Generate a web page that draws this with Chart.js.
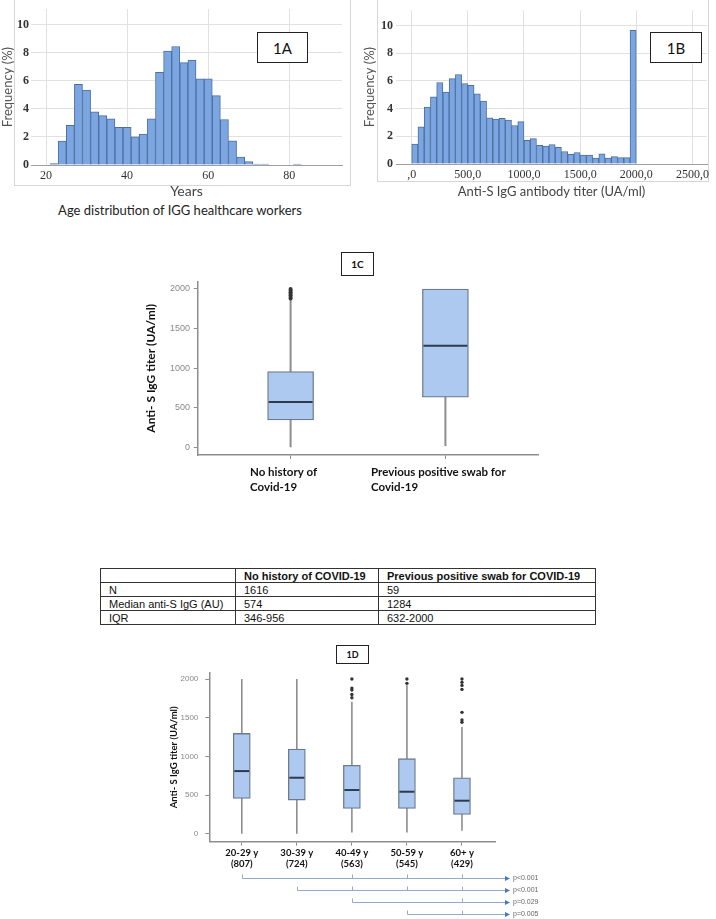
<!DOCTYPE html>
<html>
<head>
<meta charset="utf-8">
<script src="https://cdn.jsdelivr.net/npm/chart.js@4.4.1/dist/chart.umd.min.js"></script>
<style>
  body { margin: 0; background: #fff; }
  #page { position: relative; width: 716px; height: 919px; overflow: hidden; font-family: Lato, "Liberation Sans", sans-serif; }
  canvas { position: absolute; }
  .frame { position: absolute; border: 1px solid #d6d6d6; }
  .tag { position: absolute; border: 1px solid #222; background: #fff; color: #111; display: flex; align-items: center; justify-content: center; box-sizing: border-box; }
  .caption { position: absolute; font-size: 13px; color: #222; white-space: nowrap; }
  table { position: absolute; left: 100px; top: 568px; border-collapse: collapse; font-family: "Liberation Sans", Arial, sans-serif; font-size: 11px; color: #111; }
  td { border: 1px solid #333; padding: 0 8px; height: 13px; line-height: 12px; white-space: nowrap; }
  tr:first-child td { font-weight: bold; }
</style>
</head>
<body>
<div id="page">
  <div class="frame" style="left:14px;top:-2px;width:335px;height:186px"></div>
  <div class="frame" style="left:377px;top:-2px;width:330px;height:182px"></div>
  <canvas id="ageChart" width="360" height="200" style="left:0;top:0"></canvas>
  <canvas id="titerChart" width="356" height="200" style="left:360px;top:0"></canvas>
  <div class="tag" style="left:257px;top:32px;width:51px;height:31px;font-size:15px">1A</div>
  <div class="tag" style="left:650px;top:32px;width:52px;height:31px;font-size:15px">1B</div>
  <div class="caption" style="left:0;width:360px;top:202px;text-align:center">Age distribution of IGG healthcare workers</div>

  <canvas id="swabChart" width="420" height="240" style="left:140px;top:270px"></canvas>
  <div class="tag" style="left:341px;top:252px;width:33px;height:24px;font-size:10px;font-weight:bold">1C</div>

  <table>
    <tr><td style="width:118px"></td><td style="width:126px">No history of COVID-19</td><td style="width:200px">Previous positive swab for COVID-19</td></tr>
    <tr><td>N</td><td>1616</td><td>59</td></tr>
    <tr><td>Median anti-S IgG (AU)</td><td>574</td><td>1284</td></tr>
    <tr><td>IQR</td><td>346-956</td><td>632-2000</td></tr>
  </table>

  <canvas id="ageBoxChart" width="420" height="279" style="left:140px;top:640px"></canvas>
  <div class="tag" style="left:336px;top:645px;width:33px;height:19px;font-size:9px;font-weight:bold">1D</div>
</div>

<script>
// --- 1A: age histogram (2-year bins) ---
const ageBins = [22, 24, 26, 28, 30, 32, 34, 36, 38, 40, 42, 44, 46, 48, 50, 52, 54, 56, 58, 60, 62, 64, 66, 68, 70, 72, 74, 76, 78, 80, 82];
const ageFreq = [0.1, 1.7, 2.83, 5.75, 5.33, 3.79, 3.52, 3.29, 2.69, 2.69, 2.0, 2.2, 3.29, 6.6, 8.11, 8.44, 7.29, 7.47, 6.14, 6.14, 4.94, 3.24, 1.72, 0.57, 0.25, 0.07, 0.07, 0, 0, 0, 0.07];
const ageTicks = [20, 40, 60, 80];

// --- 1B: anti-S IgG titer histogram ---
const titerBins = [27.8, 83.3, 138.9, 194.4, 250, 305.6, 361.1, 416.7, 472.2, 527.8, 583.3, 638.9, 694.4, 750, 805.6, 861.1, 916.7, 972.2,
  1027.8, 1083.3, 1138.9, 1194.4, 1250, 1305.6, 1361.1, 1416.7, 1472.2, 1527.8, 1583.3, 1638.9, 1694.4, 1750, 1805.6, 1861.1, 1916.7, 1972.2];
const titerFreq = [1.43, 2.69, 4.1, 4.84, 5.88, 5.19, 6.16, 6.46, 5.81, 5.67, 5.07, 4.54, 3.33, 3.24, 3.29, 3.17, 2.78, 3.06,
  1.71, 1.83, 1.34, 1.3, 1.41, 1.2, 0.9, 0.69, 0.83, 0.65, 0.65, 0.42, 0.74, 0.42, 0.53, 0.46, 0.46, 9.65];
const titerTicks = [0, 500, 1000, 1500, 2000, 2500];
const freqTicks = [0, 2, 4, 6, 8, 10];

// --- 1C: by swab history ---
const swabLabels = [['No history of', 'Covid-19'], ['Previous positive swab for', 'Covid-19']];
const swabMin = [0, 15];
const swabQ1 = [346, 632];
const swabMed = [574, 1284];
const swabQ3 = [956, 2000];
const swabMax = [1870, 2000];
const swabOut = [[1880, 1900, 1920, 1940, 1960, 1980, 2000], []];

// --- 1D: by age group ---
const groupLabels = [['20-29 y', '(807)'], ['30-39 y', '(724)'], ['40-49 y', '(563)'], ['50-59 y', '(545)'], ['60+ y', '(429)']];
const groupMin = [0, 0, 17, 17, 39];
const groupQ1 = [457, 435, 328, 328, 250];
const groupMed = [810, 724, 565, 543, 427];
const groupQ3 = [1297, 1095, 884, 970, 724];
const groupMax = [2000, 2000, 1707, 1920, 1379];
const groupOut = [[], [], [1758, 1801, 1858, 1883, 2000], [1944, 2000], [1440, 1470, 1569, 1866, 1918, 1957, 2000]];
const titerAxisTicks = [0, 500, 1000, 1500, 2000];

// comparisons below 1D
const pFrom = [1, 2, 3, 4];
const pMarks = [[3, 4, 5], [3, 4, 5], [5], [5]];
const pText = ['p<0.001', 'p<0.001', 'p=0.029', 'p=0.005'];

Chart.defaults.font.family = 'Lato, "Liberation Sans", sans-serif';
Chart.defaults.animation = false;
Chart.defaults.plugins.legend.display = false;
Chart.defaults.plugins.tooltip.enabled = false;

const serif = '"Liberation Serif", serif';

function histogram(id, xs, ys, o) {
  return new Chart(document.getElementById(id), {
    type: 'bar',
    data: {
      datasets: [{
        data: xs.map((x, i) => ({ x, y: ys[i] })),
        backgroundColor: '#7ba6e1',
        borderColor: '#4c6f9e',
        borderWidth: 1,
        borderSkipped: 'start',
        barPercentage: 1,
        categoryPercentage: 1
      }]
    },
    options: {
      responsive: false,
      layout: { padding: o.pad },
      scales: {
        x: {
          type: 'linear', offset: false, min: o.xMin, max: o.xMax,
          afterBuildTicks: s => { s.ticks = o.xTicks.map(v => ({ value: v })); },
          afterFit: s => { s.height = o.xH; },
          grid: { color: '#e1e1e1', drawTicks: false, offset: false },
          border: { color: '#a0a0a0' },
          ticks: { padding: 4, color: '#333', font: { family: serif, size: 12 }, callback: o.xFmt },
          title: { display: true, text: o.xTitle, color: '#444', font: { size: o.xTitleSize }, padding: 0 }
        },
        y: {
          min: 0, max: 11.1,
          afterBuildTicks: s => { s.ticks = freqTicks.map(v => ({ value: v })); },
          afterFit: s => { s.width = o.yW; },
          grid: { color: '#e1e1e1', drawTicks: false },
          border: { display: false },
          ticks: { padding: o.yPad, color: '#333', font: { family: serif, size: 12, weight: 'bold' }, callback: v => v },
          title: { display: true, text: 'Frequency (%)', color: '#555', font: { size: 13 }, padding: 0 }
        }
      }
    }
  });
}

histogram('ageChart', ageBins, ageFreq, {
  pad: { left: 0, right: 18, top: 4, bottom: 0 },
  xMin: 16.3, xMax: 93, xTicks: ageTicks, xH: 35, yW: 31, yPad: 2,
  xFmt: v => v, xTitle: 'Years', xTitleSize: 14
});

histogram('titerChart', titerBins, titerFreq, {
  pad: { left: 2, right: 9, top: 4, bottom: 0 },
  xMin: -140, xMax: 2630, xTicks: titerTicks, xH: 36, yW: 34, yPad: 3,
  xFmt: v => (v === 0 ? ',0' : v + ',0'), xTitle: 'Anti-S IgG antibody titer (UA/ml)', xTitleSize: 13
});

function boxChart(id, d) {
  const boxes = {
    id: 'boxes',
    beforeDatasetsDraw(chart) {
      const { ctx, scales: { x, y } } = chart;
      ctx.save();
      ctx.strokeStyle = '#8d8d8d';
      ctx.lineWidth = d.whiskerW;
      d.lo.forEach((lo, i) => {
        const px = x.getPixelForValue(i + 1);
        ctx.beginPath();
        ctx.moveTo(px, y.getPixelForValue(lo));
        ctx.lineTo(px, y.getPixelForValue(d.hi[i]));
        ctx.stroke();
      });
      ctx.restore();
    },
    afterDatasetsDraw(chart) {
      const { ctx, scales: { x, y } } = chart;
      ctx.save();
      ctx.strokeStyle = '#2c3b50';
      ctx.lineWidth = 2;
      d.med.forEach((m, i) => {
        const px = x.getPixelForValue(i + 1);
        const py = y.getPixelForValue(m);
        ctx.beginPath();
        ctx.moveTo(px - d.boxW / 2 + 1, py);
        ctx.lineTo(px + d.boxW / 2 - 1, py);
        ctx.stroke();
      });
      ctx.restore();
    },
    afterDraw(chart) {
      const { ctx, scales: { x, y } } = chart;
      ctx.save();
      ctx.font = 'bold ' + d.labelSize + 'px Lato, sans-serif';
      ctx.fillStyle = '#111';
      ctx.textBaseline = 'middle';
      d.labels.forEach((lines, i) => {
        const px = x.getPixelForValue(i + 1);
        const w = Math.max(...lines.map(l => ctx.measureText(l).width));
        lines.forEach((l, j) => {
          if (d.leftAlign) {
            ctx.textAlign = 'left';
            ctx.fillText(l, px - w / 2 - 7, y.bottom + d.labelY + j * d.labelGap);
          } else {
            ctx.textAlign = 'center';
            ctx.fillText(l, px, y.bottom + d.labelY + j * d.labelGap);
          }
        });
      });
      ctx.restore();
      if (d.extra) d.extra(chart);
    }
  };

  return new Chart(document.getElementById(id), {
    type: 'bar',
    data: {
      datasets: [{
        data: d.q1.map((q, i) => ({ x: i + 1, y: [q, d.q3[i]] })),
        backgroundColor: '#aec9ef',
        borderColor: '#6b7a90',
        borderWidth: 1.3,
        borderSkipped: false,
        barThickness: d.boxW
      }, {
        type: 'scatter',
        data: d.out.flatMap((list, i) => list.map(v => ({ x: i + 1, y: v }))),
        pointRadius: d.dotR,
        pointBackgroundColor: '#333',
        pointBorderWidth: 0
      }]
    },
    options: {
      responsive: false,
      layout: { padding: d.pad },
      scales: {
        x: {
          type: 'linear', offset: false, min: d.xMin, max: d.xMax,
          afterBuildTicks: s => { s.ticks = d.q1.map((_, i) => ({ value: i + 1 })); },
          afterFit: s => { s.height = d.xH; },
          grid: { drawOnChartArea: false, drawTicks: true, tickLength: 4, color: '#8d8d8d', offset: false },
          border: { color: '#8d8d8d', width: 1.5 },
          ticks: { display: false }
        },
        y: {
          min: d.yMin, max: d.yMax,
          afterBuildTicks: s => { s.ticks = titerAxisTicks.map(v => ({ value: v })); },
          afterFit: s => { s.width = d.yW; },
          grid: { drawOnChartArea: false, drawTicks: true, tickLength: 4, color: '#8d8d8d' },
          border: { color: '#8d8d8d', width: 1.5 },
          ticks: { padding: d.yPad, color: '#888', font: { family: '"Liberation Sans", sans-serif', size: d.tickSize }, callback: v => String(v) },
          title: { display: true, text: 'Anti- S IgG titer (UA/ml)', color: '#111', font: { size: d.titleSize, weight: 'bold' }, padding: 0 }
        }
      }
    },
    plugins: [boxes]
  });
}

boxChart('swabChart', {
  labels: swabLabels, lo: swabMin, q1: swabQ1, med: swabMed, q3: swabQ3, hi: swabMax, out: swabOut,
  xMin: 0.4, xMax: 2.6, yMin: -97, yMax: 2092,
  pad: { left: 4, right: 21.7, top: 11.7, bottom: 0 }, xH: 55, yW: 53.7, yPad: 3.7,
  boxW: 46, whiskerW: 2, dotR: 2, tickSize: 9, titleSize: 12,
  labelSize: 11.5, labelY: 17.7, labelGap: 14.3, leftAlign: true
});

boxChart('ageBoxChart', {
  labels: groupLabels, lo: groupMin, q1: groupQ1, med: groupMed, q3: groupQ3, hi: groupMax, out: groupOut,
  xMin: 0.41, xMax: 5.6, yMin: -103, yMax: 2078,
  pad: { left: 28, right: 65, top: 33, bottom: 0 }, xH: 77.3, yW: 41.3, yPad: 7,
  boxW: 17, whiskerW: 1.6, dotR: 1.7, tickSize: 8, titleSize: 9.5,
  labelSize: 9.5, labelY: 11.6, labelGap: 10.7, leftAlign: false,
  extra(chart) {
    // comparison arrows under the age groups
    const { ctx, scales: { x, y } } = chart;
    const endX = x.right + 10;
    ctx.save();
    pFrom.forEach((from, k) => {
      const py = Math.round(y.bottom + 36 + k * 12.1) + 0.5;
      ctx.strokeStyle = '#93abcb';
      ctx.lineWidth = 1;
      ctx.beginPath();
      const sx = Math.round(x.getPixelForValue(from)) + 0.5;
      ctx.moveTo(sx, py - 4);
      ctx.lineTo(sx, py);
      ctx.lineTo(endX, py);
      pMarks[k].forEach(m => {
        const mx = Math.round(x.getPixelForValue(m)) + 0.5;
        ctx.moveTo(mx, py - 4);
        ctx.lineTo(mx, py);
      });
      ctx.stroke();
      ctx.fillStyle = '#4a78c0';
      ctx.beginPath();
      ctx.moveTo(endX, py - 2.5);
      ctx.lineTo(endX + 5, py);
      ctx.lineTo(endX, py + 2.5);
      ctx.closePath();
      ctx.fill();
      ctx.fillStyle = '#666';
      ctx.font = '7px "Liberation Sans", sans-serif';
      ctx.textAlign = 'left';
      ctx.textBaseline = 'middle';
      ctx.fillText(pText[k], endX + 8, py);
    });
    ctx.restore();
  }
});
</script>
</body>
</html>
